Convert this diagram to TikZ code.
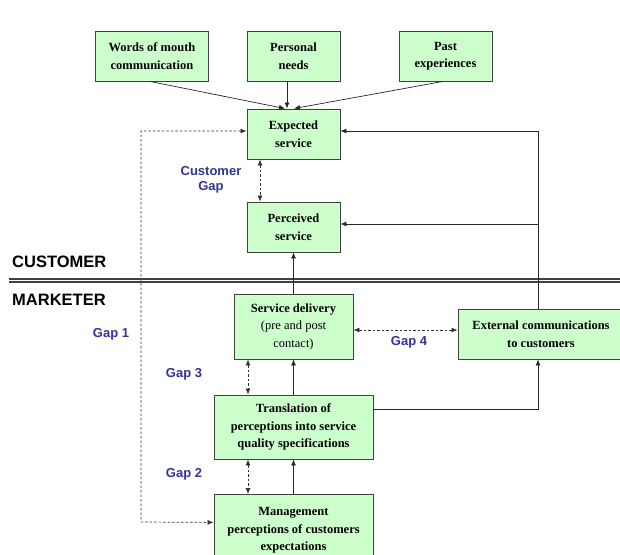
\documentclass[tikz,border=0pt]{standalone}
\usepackage{fontspec}
\setmainfont{Liberation Serif}
\newfontfamily\arialf{Liberation Sans}
\usetikzlibrary{arrows.meta,calc}
\definecolor{boxfill}{HTML}{CCFFCC}
\definecolor{boxdraw}{HTML}{404040}
\definecolor{gapblue}{HTML}{333399}
\tikzset{
  gbox/.style={draw=boxdraw, fill=boxfill, line width=0.9pt, align=center, inner sep=0pt,
    font=\fontsize{12.5}{17.5}\selectfont\bfseries},
  arr/.style={draw=black!85, line width=0.7pt, -{Latex[length=6pt,width=5pt]}},
  darr/.style={draw=black!80, line width=0.7pt, dashed, dash pattern=on 2.5pt off 2pt, {Latex[length=6pt,width=5pt]}-{Latex[length=6pt,width=5pt]}},
  gaplbl/.style={text=gapblue, font=\arialf\fontsize{13}{15}\selectfont\bfseries, align=center, inner sep=0pt},
  sidelbl/.style={font=\arialf\fontsize{16.5}{18}\selectfont\bfseries, anchor=west, inner sep=0pt}
}
\begin{document}
\begin{tikzpicture}[x=1pt,y=-1pt]
\useasboundingbox[fill=white] (0,0) rectangle (620,554);
\begin{scope}
\clip (0,0) rectangle (620,554);
% boxes
\node[gbox, minimum width=113pt, minimum height=50pt] (words) at (152,56) {Words of mouth\\communication};
\node[gbox, minimum width=93pt, minimum height=50pt] (personal) at (293.5,56) {Personal\\needs};
\node[gbox, minimum width=93pt, minimum height=50pt] (past) at (445.5,56) {Past\\experiences};
\node[gbox, minimum width=93pt, minimum height=50pt] (expected) at (293.5,134) {Expected\\service};
\node[gbox, minimum width=93pt, minimum height=50pt] (perceived) at (293.5,227) {Perceived\\service};
\node[gbox, minimum width=119pt, minimum height=65pt] (service) at (293.5,326.5) {Service delivery\\\mdseries(pre and post\\\mdseries contact)};
\node[gbox, minimum width=166pt, minimum height=50pt] (external) at (541,334) {External communications\\to customers};
\node[gbox, minimum width=159pt, minimum height=64pt] (translation) at (293.5,427) {Translation of\\perceptions into service\\quality specifications};
\node[gbox, minimum width=159pt, minimum height=72pt, anchor=north] (management) at (293.5,494) {Management\\perceptions of customers\\expectations};

% side labels and divider
\node[sidelbl] (custlbl) at (12,262) {CUSTOMER};
\node[sidelbl] (marklbl) at (12,300) {MARKETER};
\coordinate (divL) at (9,279);
\coordinate (divR) at (620,279);
\draw[boxdraw, line width=1.1pt] (divL) -- (divR);
\draw[boxdraw, line width=1.1pt] ([yshift=-3pt]divL) -- ([yshift=-3pt]divR);

% gap labels
\node[gaplbl] (cgap) at (211,180) {Customer\\Gap};
\node[gaplbl] (gap1) at (111,334) {Gap 1};
\node[gaplbl] (gap4) at (409,342) {Gap 4};
\node[gaplbl] (gap3) at (184,374) {Gap 3};
\node[gaplbl] (gap2) at (184,474) {Gap 2};

% inputs to expected
\draw[arr] ([xshift=-2pt]words.south) -- ([xshift=-8.5pt]expected.north);
\draw[arr] ([xshift=-6.5pt]personal.south) -- ([xshift=-6.5pt]expected.north);
\draw[arr] ([xshift=-2.5pt]past.south) -- ([xshift=0.5pt]expected.north);

% customer gap
\draw[darr] ([xshift=-33.5pt]expected.south) -- ([xshift=-33.5pt]perceived.north);

% external communications feedback
\draw[arr] ([xshift=-3pt]external.north) |- ([yshift=3pt]expected.east);
\draw[arr] ([xshift=-3pt]external.north) |- ([yshift=3pt]perceived.east);

% service delivery to perceived
\draw[arr] (service.north) -- (perceived.south);

% gap 1
\coordinate (g1top) at (141,131);
\coordinate (g1bot) at (141,522);
\draw[darr] ([yshift=3pt]expected.west) -- (g1top) -- (g1bot) -- ([yshift=8pt]management.west);

% gap 4
\draw[darr] ([yshift=-3.5pt]service.east) -- ([yshift=-3.5pt]service.east -| external.west);

% gap 3 and translation -> service
\draw[darr] ([xshift=-45.5pt]service.south) -- ([xshift=-45.5pt]service.south |- translation.north);
\draw[arr] (translation.north) -- (service.south);

% translation -> external
\draw[arr] ([yshift=18pt]translation.east) -| ([xshift=-3pt]external.south);

% gap 2 and management -> translation
\draw[darr] ([xshift=-45.5pt]translation.south) -- ([xshift=-45.5pt]translation.south |- management.north);
\draw[arr] (management.north) -- (translation.south);
\end{scope}
\end{tikzpicture}
\end{document}
